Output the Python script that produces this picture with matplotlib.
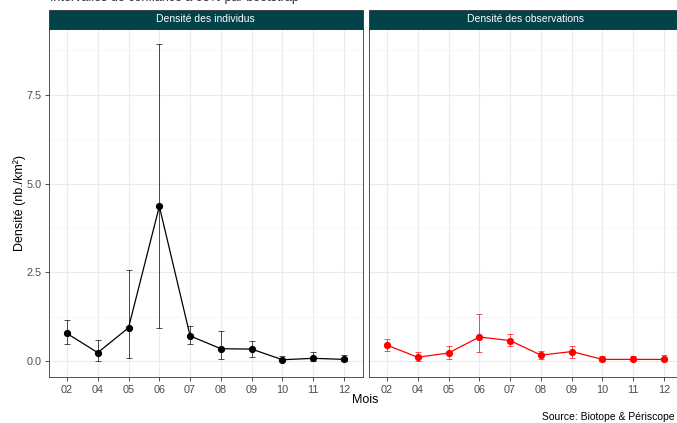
import matplotlib
matplotlib.use("Agg")
import matplotlib.pyplot as plt
from matplotlib.patches import Rectangle
import numpy as np

plt.rcParams['font.family'] = ['Liberation Sans', 'DejaVu Sans']

months = ["02", "04", "05", "06", "07", "08", "09", "10", "11", "12"]

ind_mean = [0.78, 0.24, 0.94, 4.36, 0.71, 0.35, 0.34, 0.04, 0.08, 0.05]
ind_low = [0.47, 0.00, 0.085, 0.92, 0.47, 0.07, 0.13, 0.00, 0.00, 0.00]
ind_high = [1.15, 0.60, 2.57, 8.92, 0.98, 0.85, 0.56, 0.15, 0.25, 0.18]

obs_mean = [0.45, 0.11, 0.23, 0.68, 0.58, 0.17, 0.27, 0.05, 0.05, 0.05]
obs_low = [0.28, 0.00, 0.07, 0.25, 0.42, 0.07, 0.10, 0.00, 0.00, 0.00]
obs_high = [0.63, 0.27, 0.42, 1.32, 0.76, 0.29, 0.43, 0.15, 0.15, 0.16]

panels = ["Densité des individus", "Densité des observations"]
colors = ["black", "red"]
y_ticks = [0.0, 2.5, 5.0, 7.5]
y_labels = ["0.0", "2.5", "5.0", "7.5"]

W, H = 677, 423
fig = plt.figure(figsize=(W / 100, H / 100), dpi=100)
fig.patch.set_facecolor("white")

strip_color = "#02434A"
panel_px = [(48.5, 362.5), (368.5, 682.5)]
top_px, bot_px = 28.5, 377
strip_h = 19

x = np.arange(len(months))
allv = ind_low + ind_high + obs_low + obs_high
ymin, ymax = min(allv), max(allv)
pad = 0.05 * (ymax - ymin)

datasets = [(ind_mean, ind_low, ind_high), (obs_mean, obs_low, obs_high)]

for i, ((x0, x1), (m, lo, hi), col, title) in enumerate(zip(panel_px, datasets, colors, panels)):
    ax = fig.add_axes([x0 / W, 1 - bot_px / H, (x1 - x0) / W, (bot_px - top_px) / H])
    ax.set_xlim(-0.6, len(months) - 1 + 0.6)
    ax.set_ylim(ymin - pad, ymax + pad)
    ax.set_facecolor("white")
    for yt in y_ticks:
        ax.axhline(yt, color="#EBEBEB", lw=0.8, zorder=0)
    for ym in [1.25, 3.75, 6.25, 8.75]:
        ax.axhline(ym, color="#F4F4F4", lw=0.5, zorder=0)
    for xi in x:
        ax.axvline(xi, color="#EBEBEB", lw=0.8, zorder=0)
    m = np.array(m); lo = np.array(lo); hi = np.array(hi)
    ax.errorbar(x, m, yerr=[m - lo, hi - m], fmt="none", ecolor=col, elinewidth=0.6,
                capsize=2.5, capthick=0.6, alpha=0.8, zorder=2)
    ax.plot(x, m, color=col, lw=0.9, zorder=3)
    ax.plot(x, m, "o", color=col, ms=4.2, zorder=4)
    ax.set_xticks(x)
    ax.set_xticklabels(months)
    ax.set_yticks(y_ticks)
    ax.tick_params(axis="both", labelsize=7.8, labelcolor="#4D4D4D", color="#333333",
                   length=3, width=0.6, pad=3)
    if i == 0:
        ax.set_yticklabels(y_labels)
        ax.tick_params(axis="y", pad=1.8)
        ax.set_ylabel("Densité (nb./km²)", fontsize=9, color="black")
        ax.yaxis.set_label_coords((26 - x0) / (x1 - x0), 0.5)
    else:
        ax.set_yticklabels([])
        ax.tick_params(axis="y", length=0)
    for s in ax.spines.values():
        s.set_color("#333333")
        s.set_linewidth(0.6)
    h_ax = strip_h / (bot_px - top_px)
    rect = Rectangle((0, 1), 1, h_ax, transform=ax.transAxes, facecolor=strip_color,
                     edgecolor="#333333", lw=0.6, clip_on=False)
    ax.add_patch(rect)
    ax.text(0.5, 1 + h_ax / 2, title, transform=ax.transAxes, ha="center", va="center",
            color="white", fontsize=7.5)

fig.text((48.5 + 682.5) / 2 / W, 1 - 400 / H, "Mois", ha="center", va="center", fontsize=9)
fig.text(675 / W, 1 - 417 / H, "Source: Biotope & Périscope", ha="right", va="center",
         fontsize=7.5)
fig.text(50 / W, 1 - 1.5 / H, "Intervalles de confiance à 95% par bootstrap", ha="left",
         va="baseline", fontsize=9, color="#333333")

fig.savefig("out.png", dpi=100)
